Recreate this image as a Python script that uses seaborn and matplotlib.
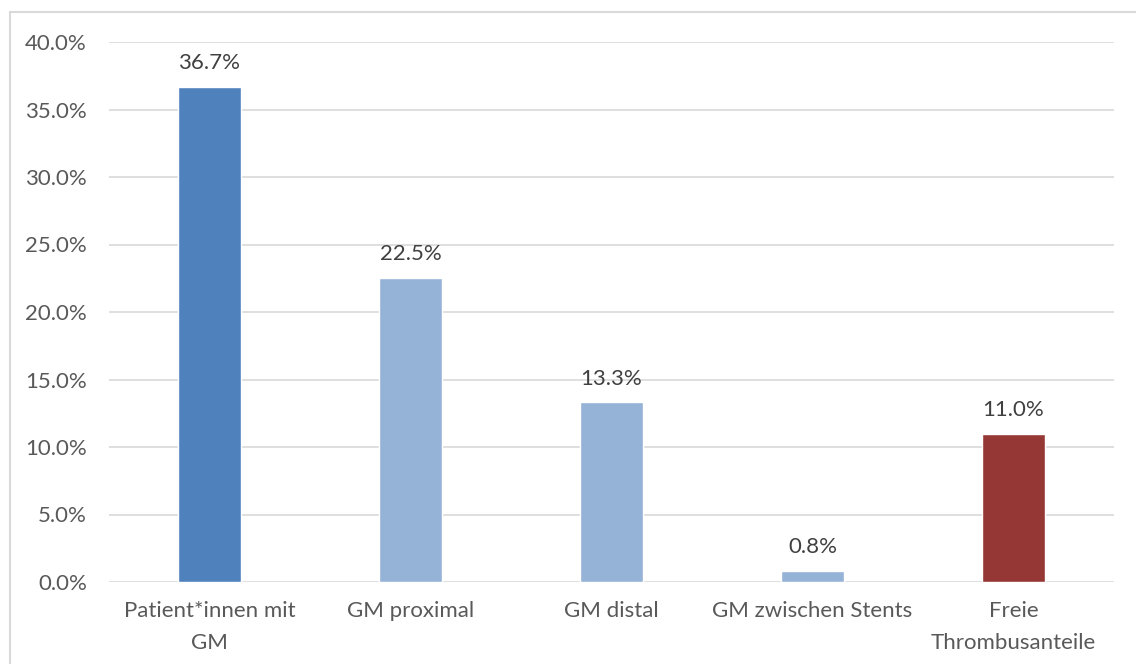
import matplotlib
matplotlib.use("Agg")
import matplotlib.pyplot as plt
import seaborn as sns
import pandas as pd
from matplotlib.patches import Rectangle
from matplotlib.ticker import FuncFormatter, MultipleLocator

categories = ["Patient*innen mit\nGM", "GM proximal", "GM distal", "GM zwischen Stents", "Freie\nThrombusanteile"]
values = [36.7, 22.5, 13.3, 0.8, 11.0]
colors = ["#4F81BD", "#95B3D7", "#95B3D7", "#95B3D7", "#953735"]

sns.set_theme(style="white")
plt.rcParams['font.family'] = ['Lato', 'DejaVu Sans']

W, H = 1136, 664
fig = plt.figure(figsize=(W / 100, H / 100), dpi=100)
fig.patch.set_facecolor("white")
ax = fig.add_axes([109 / W, 1 - 582 / H, (1114 - 109) / W, (582 - 42) / H])

df = pd.DataFrame({"cat": categories, "val": values})
sns.barplot(data=df, x="cat", y="val", hue="cat", palette=colors, legend=False,
            width=0.31, ax=ax, saturation=1)

ax.set_ylim(0, 40)
ax.set_xlim(-0.5, 4.5)
ax.yaxis.set_major_locator(MultipleLocator(5))
ax.yaxis.set_major_formatter(FuncFormatter(lambda v, p: f"{v:.1f}%"))
ax.grid(axis="y", color="#D9D9D9", linewidth=1.2)
ax.set_axisbelow(True)
for s in ax.spines.values():
    s.set_visible(False)
ax.set_xlabel("")
ax.set_ylabel("")
ax.tick_params(axis="both", length=0, labelsize=16, labelcolor="#595959")
ax.tick_params(axis="y", pad=16)
ax.tick_params(axis="x", pad=14)
for t in ax.get_xticklabels():
    t.set_linespacing(1.75)

for i, v in enumerate(values):
    ax.annotate(f"{v:.1f}%", (i, v), xytext=(0, 10), textcoords="offset points",
                ha="center", va="bottom", fontsize=16, color="#404040")

border = Rectangle((10 / W, -0.1), 1.2, 1 - 12 / H + 0.1, transform=fig.transFigure,
                   fill=False, edgecolor="#D9D9D9", linewidth=1.5, clip_on=False)
fig.patches.append(border)

fig.savefig("out.png", dpi=100, facecolor="white")
